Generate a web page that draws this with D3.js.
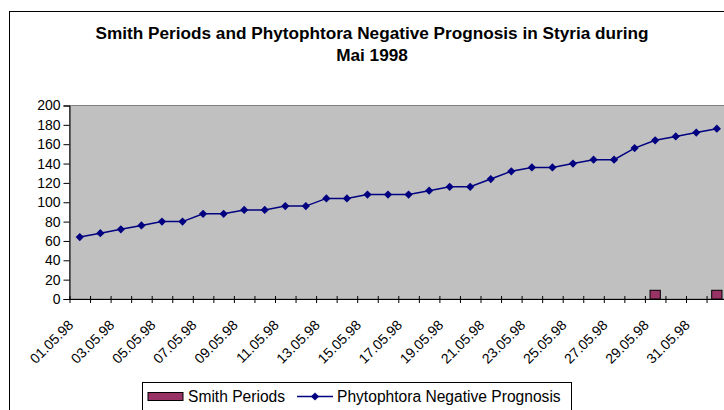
<!DOCTYPE html>
<html>
<head>
<meta charset="utf-8">
<script src="https://cdn.jsdelivr.net/npm/d3@7"></script>
<style>
  body { margin: 0; background: #fff; }
  svg { display: block; font-family: Arial, "Liberation Sans", sans-serif; }
</style>
</head>
<body>
<div id="chart"></div>
<script>
// categories: days of May 1998 (+ 1 June)
var dates = ["01.05.98","02.05.98","03.05.98","04.05.98","05.05.98","06.05.98","07.05.98","08.05.98",
  "09.05.98","10.05.98","11.05.98","12.05.98","13.05.98","14.05.98","15.05.98","16.05.98",
  "17.05.98","18.05.98","19.05.98","20.05.98","21.05.98","22.05.98","23.05.98","24.05.98",
  "25.05.98","26.05.98","27.05.98","28.05.98","29.05.98","30.05.98","31.05.98","01.06.98"];
var prognosis = [64,68,72,76,80,80,88,88,92,92,96,96,104,104,108,108,
  108,112,116,116,124,132,136,136,140,144,144,156,164,168,172,176];
var smithDates = ["29.05.98","01.06.98"];
var smithValues = [9,9];
var yTicks = [0,20,40,60,80,100,120,140,160,180,200];
var xLabels = dates.filter(function (d, i) { return i % 2 == 0 && i < 31; });

var width = 724;
var height = 410;
var plot = { left: 69.5, top: 105.5, bottom: 299, right: 69.5 + 32 * 20.55 };

var svg = d3
  .select("#chart")
  .append("svg")
  .attr("width", width)
  .attr("height", height);

// chart border
svg.append("rect")
  .attr("x", 9.5).attr("y", 11.5)
  .attr("width", 800).attr("height", 500)
  .attr("fill", "#fff")
  .attr("stroke", "#000");

var x = d3.scaleBand().domain(dates).range([plot.left, plot.right]).padding(0);
var y = d3.scaleLinear().domain([0, 200]).range([plot.bottom, plot.top]);
var bw = x.bandwidth();

// plot area
svg.append("rect")
  .attr("x", plot.left).attr("y", plot.top)
  .attr("width", plot.right - plot.left).attr("height", plot.bottom - plot.top)
  .attr("fill", "#c0c0c0")
  .attr("stroke", "#808080");

// title
var title = svg.append("text")
  .attr("text-anchor", "middle")
  .style("font-size", "17.2px")
  .style("font-weight", "bold");
title.append("tspan").attr("x", 372).attr("y", 39)
  .text("Smith Periods and Phytophtora Negative Prognosis in Styria during");
title.append("tspan").attr("x", 372).attr("y", 61).text("Mai 1998");

// smith bars
svg.append("g")
  .selectAll("rect")
  .data(smithDates)
  .enter()
  .append("rect")
  .attr("x", function (d) { return x(d) + bw * 0.25; })
  .attr("y", function (d, i) { return y(smithValues[i]); })
  .attr("width", bw * 0.5)
  .attr("height", function (d, i) { return y(0) - y(smithValues[i]); })
  .attr("fill", "#993366")
  .attr("stroke", "#000")
  .attr("stroke-width", 1);

// y axis
var yAxis = svg.append("g")
  .attr("transform", "translate(" + plot.left + ",0)")
  .call(d3.axisLeft(y).tickValues(yTicks).tickSize(6).tickPadding(3));
yAxis.select(".domain").attr("stroke", "#000");
yAxis.selectAll("text").style("font-size", "14px").attr("fill", "#000")
  .style("font-family", "Arial, 'Liberation Sans', sans-serif");

// x axis: tick marks on category boundaries, crossing the axis
var xi = d3.scaleLinear().domain([0, dates.length]).range([plot.left, plot.right]);
var xAxis = svg.append("g")
  .attr("transform", "translate(0," + plot.bottom + ")")
  .call(d3.axisBottom(xi).tickValues(d3.range(0, dates.length + 1)).tickFormat("").tickSize(4).tickSizeOuter(0));
xAxis.select(".domain").attr("stroke", "#000");
xAxis.selectAll(".tick line").attr("y1", -3).attr("stroke", "#000");

// x labels, rotated
svg.append("g")
  .selectAll("text")
  .data(xLabels)
  .enter()
  .append("text")
  .attr("transform", function (d) {
    return "translate(" + (x(d) + bw / 2 - 5.5) + "," + 326 + ") rotate(-45)";
  })
  .attr("text-anchor", "end")
  .style("font-size", "14px")
  .text(function (d) { return d; });

// prognosis line
var line = d3.line()
  .x(function (d, i) { return x(dates[i]) + bw / 2; })
  .y(function (d) { return y(d); });
svg.append("path")
  .datum(prognosis)
  .attr("d", line)
  .attr("fill", "none")
  .attr("stroke", "#000080")
  .attr("stroke-width", 1.5);

var diamond = d3.symbol().type(d3.symbolSquare).size(34);
svg.append("g")
  .selectAll("path")
  .data(prognosis)
  .enter()
  .append("path")
  .attr("d", diamond)
  .attr("transform", function (d, i) {
    return "translate(" + (x(dates[i]) + bw / 2) + "," + y(d) + ") rotate(45)";
  })
  .attr("fill", "#000080");

// legend
var legend = svg.append("g");
legend.append("rect")
  .attr("x", 142.5).attr("y", 382.5)
  .attr("width", 429).attr("height", 40)
  .attr("fill", "#fff")
  .attr("stroke", "#000");
legend.append("rect")
  .attr("x", 148).attr("y", 392.5)
  .attr("width", 35).attr("height", 8)
  .attr("fill", "#993366")
  .attr("stroke", "#000");
legend.append("text")
  .attr("x", 188).attr("y", 402)
  .style("font-size", "15.6px")
  .text("Smith Periods");
legend.append("line")
  .attr("x1", 297).attr("x2", 333)
  .attr("y1", 396.5).attr("y2", 396.5)
  .attr("stroke", "#000080")
  .attr("stroke-width", 1.5);
legend.append("path")
  .attr("d", diamond)
  .attr("transform", "translate(315,396.5) rotate(45)")
  .attr("fill", "#000080");
legend.append("text")
  .attr("x", 337).attr("y", 402)
  .style("font-size", "15.6px")
  .text("Phytophtora Negative Prognosis");
</script>
</body>
</html>
